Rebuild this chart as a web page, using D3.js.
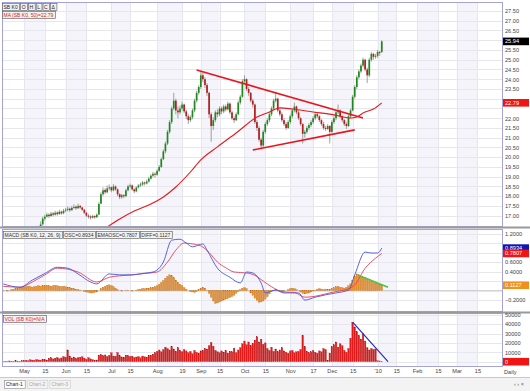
<!DOCTYPE html>
<html><head><meta charset="utf-8">
<script src="https://cdn.jsdelivr.net/npm/d3@7"></script>
<style>
html,body{margin:0;padding:0;background:#fff;}
svg{display:block;font-family:"Liberation Sans",Arial,sans-serif;}
</style></head><body>
<svg id="c" width="530" height="391"></svg>
<script>
// ---------- DATA ----------
const opens=[15.95,15.92,15.86,15.95,16.06,15.98,16.12,16.02,15.95,16.08,
16.16,16.12,16.22,16.18,16.26,16.30,16.22,16.36,16.42,16.56,
16.85,16.95,17.05,16.98,17.12,17.05,17.16,17.08,17.20,17.12,
17.26,17.30,17.36,17.28,17.40,17.46,17.38,17.50,17.42,17.30,
17.15,17.00,16.96,16.90,16.98,16.92,17.06,17.62,18.10,18.32,
18.20,18.40,18.46,18.30,18.50,18.35,18.10,17.95,18.05,18.00,
18.30,18.50,18.55,18.35,18.25,18.45,18.55,18.60,18.70,18.65,
18.75,18.90,19.05,19.15,19.10,19.30,19.50,19.90,20.30,20.70,
21.30,21.80,22.50,22.90,22.40,22.30,22.50,22.70,22.35,22.10,
21.90,22.05,22.40,22.90,23.30,23.60,24.20,24.00,23.70,23.30,
22.20,21.60,21.90,22.30,22.20,22.50,22.35,22.60,22.45,22.75,
22.30,22.00,21.90,22.20,22.80,23.10,23.90,24.00,23.50,23.30,
22.90,22.70,21.80,21.50,20.90,20.60,21.30,21.70,21.90,22.20,
22.50,22.90,23.00,22.40,22.20,21.90,21.70,21.50,21.80,22.10,
22.40,22.60,22.30,22.00,21.70,21.20,21.30,21.50,21.65,21.80,
22.00,22.20,22.10,21.90,21.70,21.50,21.45,21.60,21.30,21.80,
22.00,22.30,22.40,22.10,21.90,21.70,21.60,22.10,22.40,23.10,
23.60,24.10,24.40,24.70,25.00,24.50,24.20,25.00,25.30,25.15,
25.20,25.40,25.40];
const highs=[16.05,16.00,16.05,16.15,16.10,16.20,16.18,16.08,16.15,16.25,
16.22,16.28,16.30,16.35,16.40,16.36,16.42,16.48,16.70,16.95,
17.05,17.15,17.12,17.20,17.18,17.25,17.22,17.30,17.26,17.35,
17.40,17.48,17.42,17.50,17.58,17.52,17.62,17.55,17.46,17.35,
17.20,17.08,17.02,17.05,17.02,17.12,17.70,18.20,18.45,18.40,
18.55,18.60,18.50,18.62,18.55,18.40,18.15,18.12,18.10,18.38,
18.58,18.65,18.60,18.40,18.50,18.62,18.70,18.78,18.75,18.85,
18.98,19.12,19.25,19.22,19.38,19.60,19.98,20.40,20.80,21.40,
21.90,22.60,23.30,23.00,22.60,22.65,22.85,22.75,22.45,22.20,
22.15,22.50,23.00,23.40,23.70,24.40,24.35,24.10,23.80,23.35,
22.30,22.05,22.40,22.45,22.60,22.60,22.70,22.70,22.85,22.80,
22.40,22.10,22.30,22.90,23.20,24.00,24.20,24.05,23.60,23.35,
23.00,22.75,21.90,21.60,21.00,21.40,21.80,22.00,22.30,22.60,
23.00,23.35,23.05,22.50,22.30,22.00,21.80,21.90,22.20,22.50,
22.80,22.65,22.40,22.05,21.75,21.40,21.60,21.75,21.90,22.10,
22.35,22.30,22.15,21.95,21.80,21.60,21.70,21.65,21.90,22.10,
22.40,22.70,22.45,22.15,21.95,21.80,22.20,22.50,23.20,23.70,
24.20,24.50,24.80,25.10,25.05,24.60,25.10,25.40,25.35,25.30,
25.50,25.45,26.00];
const lows=[15.80,15.75,15.80,15.90,15.90,15.95,15.96,15.88,15.90,16.02,
16.05,16.08,16.10,16.12,16.20,16.15,16.18,16.30,16.38,16.50,
16.75,16.90,16.88,16.95,16.96,17.00,17.00,17.05,17.05,17.08,
17.18,17.22,17.20,17.25,17.35,17.30,17.35,17.35,17.25,17.08,
16.92,16.85,16.80,16.85,16.84,16.88,17.02,17.58,18.02,18.10,
18.15,18.30,18.20,18.25,18.28,18.00,17.85,17.88,17.90,17.96,
18.25,18.42,18.28,18.15,18.20,18.40,18.48,18.52,18.55,18.60,
18.70,18.85,18.98,18.95,19.05,19.25,19.45,19.85,20.20,20.62,
21.20,21.70,22.40,22.20,22.00,22.20,22.40,22.25,21.95,21.70,
21.80,21.95,22.30,22.80,23.20,23.50,23.85,23.55,23.15,22.00,
20.80,21.40,21.80,22.05,22.10,22.20,22.25,22.35,22.40,22.20,
21.90,21.75,21.85,22.15,22.70,23.05,23.80,23.40,23.15,22.80,
22.55,21.70,21.35,20.80,20.40,20.50,21.20,21.60,21.80,22.10,
22.40,22.80,22.30,22.10,21.80,21.60,21.40,21.45,21.70,22.00,
22.30,22.20,21.90,21.60,20.70,21.00,21.20,21.40,21.55,21.70,
21.90,22.00,21.80,21.60,21.40,21.35,21.40,20.70,21.25,21.70,
21.90,22.20,22.00,21.80,21.60,21.45,21.55,22.00,22.35,23.00,
23.50,24.00,24.30,24.60,24.40,23.80,24.10,24.90,25.00,25.05,
25.10,25.20,25.35];
const closes=[15.90,15.85,15.95,16.05,15.98,16.10,16.02,15.94,16.08,16.15,
16.12,16.20,16.18,16.25,16.30,16.22,16.35,16.40,16.55,16.85,
16.95,17.05,16.98,17.10,17.05,17.15,17.08,17.20,17.12,17.25,
17.30,17.35,17.28,17.40,17.45,17.38,17.50,17.42,17.30,17.15,
17.00,16.95,16.90,16.98,16.92,17.05,17.60,18.10,18.30,18.20,
18.40,18.45,18.30,18.50,18.35,18.10,17.95,18.05,18.00,18.30,
18.50,18.55,18.35,18.25,18.45,18.55,18.60,18.70,18.65,18.75,
18.90,19.05,19.15,19.10,19.30,19.50,19.90,20.30,20.70,21.30,
21.80,22.50,22.90,22.40,22.30,22.50,22.70,22.35,22.10,21.90,
22.05,22.40,22.90,23.30,23.60,24.20,24.00,23.70,23.30,22.20,
21.60,21.90,22.30,22.20,22.50,22.35,22.60,22.45,22.75,22.30,
22.00,21.90,22.20,22.80,23.10,23.90,24.00,23.50,23.30,22.90,
22.70,21.80,21.50,20.90,20.60,21.30,21.70,21.90,22.20,22.50,
22.90,23.00,22.40,22.20,21.90,21.70,21.50,21.80,22.10,22.40,
22.60,22.30,22.00,21.70,21.20,21.30,21.50,21.65,21.80,22.00,
22.20,22.10,21.90,21.70,21.50,21.45,21.60,21.30,21.80,22.00,
22.30,22.40,22.10,21.90,21.70,21.60,22.10,22.40,23.10,23.60,
24.10,24.40,24.70,25.00,24.50,24.20,25.00,25.30,25.15,25.20,
25.40,25.35,25.94];
const volumes=[300,500,400,800,600,500,900,700,600,1000,
1200,1500,900,2000,1700,1400,2200,1900,1600,2500,2100,1800,
3500,4200,3000,3800,4500,3200,4000,5500,4800,12500,
6000,4000,5000,3500,4200,4800,5200,3800,2500,4400,3000,2200,
1500,1800,
7000,7500,6500,7200,5500,6800,9500,6000,5800,9800,6200,5000,4800,7000,6500,5500,6000,
4500,5000,5500,4200,6000,5200,4800,6500,7000,
8000,9500,11000,12500,10500,13000,15500,
14000,12500,16000,13500,11000,15000,12000,10500,13000,11500,
9500,11000,8500,12000,10000,9000,11500,
12000,14000,13500,17000,20500,16500,12000,
10500,9500,11500,10000,12000,9000,11000,10500,14500,9500,12500,
15000,19000,22000,18000,21000,17000,19500,23000,26500,21000,24000,18500,20000,
14000,12000,15500,11000,13500,10500,12500,15000,11500,
10000,9000,11500,12000,9500,10500,11000,
13000,28000,16000,
11000,9500,10500,12000,10000,9000,11500,10500,
14000,13000,1500,9000,
16000,18000,21000,15500,19000,17000,12000,10000,
14000,25000,42000,
37000,32000,28000,24000,30000,22000,
15000,12500,14000,13000,13500,1000,800,500];
const histVals=[0.01,0.00,-0.01,0.00,0.02,0.03,0.04,0.05,0.06,0.07,
0.08,0.08,0.09,0.08,0.07,0.08,0.09,0.10,0.09,0.10,
0.10,0.11,0.10,0.09,0.10,0.11,0.10,0.09,0.08,0.09,0.08,0.07,0.06,
0.05,0.04,0.03,0.02,0.01,0.00,-0.02,-0.03,
-0.04,-0.05,-0.05,-0.04,-0.03,0.00,
0.04,0.07,0.09,0.11,0.12,0.10,0.08,0.05,0.02,
0.00,-0.01,0.00,0.01,0.01,0.00,-0.01,0.00,0.01,
0.02,0.03,0.04,0.04,0.05,0.05,0.06,0.07,0.08,
0.10,0.13,0.17,0.21,0.26,0.30,0.33,0.31,0.27,
0.22,0.17,0.13,0.10,0.06,0.03,0.00,-0.02,
-0.03,-0.04,-0.02,0.02,0.05,
0.07,0.05,0.01,-0.06,
-0.14,-0.22,-0.27,-0.26,-0.24,-0.22,-0.20,-0.18,
-0.17,-0.15,-0.13,-0.10,-0.06,-0.02,
0.02,0.05,0.06,0.04,0.00,
-0.05,-0.10,-0.16,-0.21,-0.25,-0.24,-0.22,-0.18,
-0.13,-0.07,-0.02,0.01,0.02,
0.01,-0.01,-0.03,-0.02,0.00,
0.02,0.04,0.05,0.04,0.02,0.00,
-0.03,-0.06,-0.07,-0.06,-0.05,-0.03,-0.01,
0.01,0.03,0.04,0.03,0.02,0.03,0.02,0.03,
0.04,0.06,0.08,0.09,0.07,0.06,0.05,0.07,0.10,0.14,
0.22,0.30,0.35,0.33,0.30,
0.28,0.27,0.24,0.23,0.20,0.19,0.16,0.15,0.13,0.11];
const oscIdx=[0,8,14,20,26,31,36,42,45,51,56,62,67,72,77,81,85,88,91,96,98,103,109,114,117,120,124,126,131,135,142,145,150,155,160,166,169,174,177,180,182];
const oscVals=[0.14,0.07,0.22,0.36,0.49,0.47,0.35,0.18,0.14,0.35,0.33,0.33,0.36,0.39,0.60,1.06,1.08,1.00,0.92,0.98,0.85,0.47,0.28,0.16,0.39,0.37,0.16,-0.05,0.01,-0.05,-0.05,-0.20,-0.14,-0.09,-0.05,0.01,0.33,0.81,0.79,0.79,0.8934];
const emaIdx=[0,8,14,20,26,31,36,45,51,56,62,68,74,79,83,87,91,95,99,103,107,111,117,121,125,129,135,140,145,150,155,160,164,169,174,179,182];
const emaVals=[0.09,0.07,0.18,0.33,0.47,0.45,0.39,0.18,0.28,0.31,0.33,0.36,0.39,0.60,0.85,1.00,0.98,0.94,0.80,0.60,0.48,0.39,0.37,0.32,0.20,0.08,-0.03,-0.04,-0.14,-0.12,-0.07,-0.02,0.01,0.12,0.47,0.68,0.7807];
const maIdx=[50,56,63,70,77,83,90,95,103,112,122,128,133,139,149,159,167,170,173,178,182];
const maVals=[16.42,16.83,17.24,17.55,17.96,18.47,19.24,19.86,20.53,21.24,22.06,22.32,22.53,22.47,22.32,22.17,22.01,22.06,22.27,22.47,22.79];
const trendUpper=[[93,24.47],[173,22.01]];
const trendLower=[[120,20.37],[169,21.40]];
const volTrend=[[168,42000],[185,0]];
const histTrend=[[170.5,0.33],[185,0.07]];
const dateTickIdx=[10,20,30,40,52,61,74,86,95,104,116,126,138,149,158,168,180,189,199,209,218,228];
const dateTickLabels=["May","15","Jun","15","Jul","15","Aug","19","Sep","15","Oct","15","Nov","17","Dec","15","'10","15","Feb","15","Mar","15"];
const priceTicks=[17,17.5,18,18.5,19,19.5,20,20.5,21,21.5,22,22.5,23,23.5,24,24.5,25,25.5,26,26.5,27,27.5];
const macdTicks=[-0.2,0,0.2,0.4,0.6,0.8,1.0,1.2];
const volTicks=[0,10000,20000,30000,40000,50000];
const lastClose=25.94, lastMA=22.79, lastOSC=0.8934, lastEMA=0.7807, lastDIFF=0.1127, lastVol=0;

// ---------- LAYOUT ----------
const svg=d3.select("#c");
const PL=3, PR=502, AX=505;
const P={main:[3,226],macd:[230,311],vol:[314,366]};
const x=d3.scaleLinear().domain([0,240]).range([3.2,502.4]);
const yP=d3.scaleLinear().domain([16.47,27.91]).range([P.main[1],P.main[0]]);
const yM=d3.scaleLinear().domain([-0.43,1.274]).range([P.macd[1],P.macd[0]]);
const yV=d3.scaleLinear().domain([-4574,50745]).range([P.vol[1],P.vol[0]]);
const FS=5.6;

const defs=svg.append("defs");
Object.entries(P).forEach(([k,[a,b]])=>{
  defs.append("clipPath").attr("id","clip-"+k).append("rect")
   .attr("x",PL).attr("y",a).attr("width",PR-PL).attr("height",b-a);
});

Object.entries(P).forEach(([k,[a,b]])=>{
  const g=svg.append("g").attr("clip-path","url(#clip-"+k+")");
  g.append("rect").attr("x",PL).attr("y",a).attr("width",PR-PL).attr("height",b-a).attr("fill","#fff");
  for(let j=0;j<dateTickIdx.length-1;j+=2){
    g.append("rect").attr("x",x(dateTickIdx[j])).attr("y",a)
     .attr("width",x(dateTickIdx[j+1])-x(dateTickIdx[j])).attr("height",b-a).attr("fill","#f4f4fa");
  }
  g.selectAll("line.vg").data(dateTickIdx).enter().append("line")
   .attr("x1",d=>Math.round(x(d))+0.5).attr("x2",d=>Math.round(x(d))+0.5)
   .attr("y1",a).attr("y2",b).attr("stroke","#e6e6ee").attr("stroke-width",1);
});
function hgrid(ticks,scale,k){
  const g=svg.append("g").attr("clip-path","url(#clip-"+k+")");
  g.selectAll("line").data(ticks).enter().append("line")
   .attr("x1",PL).attr("x2",PR)
   .attr("y1",d=>Math.round(scale(d))+0.5).attr("y2",d=>Math.round(scale(d))+0.5)
   .attr("stroke","#e6e6ee");
}
hgrid(priceTicks,yP,"main");
hgrid(macdTicks,yM,"macd");
hgrid(volTicks,yV,"vol");

// ---------- MAIN ----------
const gm=svg.append("g").attr("clip-path","url(#clip-main)");
const bars=closes.map((c,i)=>({i,o:opens[i],h:highs[i],l:lows[i],c}));
gm.selectAll("line.wick").data(bars).enter().append("line")
 .attr("x1",d=>x(d.i)).attr("x2",d=>x(d.i))
 .attr("y1",d=>yP(d.h)).attr("y2",d=>yP(d.l))
 .attr("stroke","#8a8a8a").attr("stroke-width",0.8);
gm.selectAll("rect.body").data(bars).enter().append("rect")
 .attr("x",d=>x(d.i)-0.85).attr("width",1.7)
 .attr("y",d=>yP(Math.max(d.o,d.c)))
 .attr("height",d=>Math.max(0.8,Math.abs(yP(d.o)-yP(d.c))))
 .attr("fill",d=>d.c>=d.o?"#1e8a1e":"#b51e1e");
const maPts=maIdx.map((d,j)=>[d,maVals[j]]);
gm.append("path").datum(maPts)
 .attr("d",d3.line().x(d=>x(d[0])).y(d=>yP(d[1])).curve(d3.curveMonotoneX))
 .attr("fill","none").attr("stroke","#e41a1a").attr("stroke-width",1.1);
[trendUpper,trendLower].forEach(t=>{
  gm.append("path").datum(t).attr("d",d3.line().x(d=>x(d[0])).y(d=>yP(d[1])))
   .attr("stroke","#e8161c").attr("stroke-width",1.6).attr("fill","none");
});

// ---------- MACD ----------
const gc=svg.append("g").attr("clip-path","url(#clip-macd)");
gc.append("line").attr("x1",PL).attr("x2",PR).attr("y1",yM(0)).attr("y2",yM(0)).attr("stroke","#b0b0b0").attr("stroke-width",0.6);
gc.selectAll("rect.h").data(histVals).enter().append("rect")
 .attr("x",(d,i)=>x(i)-0.8).attr("width",1.6)
 .attr("y",d=>Math.min(yM(d),yM(0))).attr("height",d=>Math.abs(yM(d)-yM(0)))
 .attr("fill","#e8922e").attr("stroke","#c06a14").attr("stroke-width",0.3);
const emaPts=emaIdx.map((d,j)=>[d,emaVals[j]]);
const oscPts=oscIdx.map((d,j)=>[d,oscVals[j]]);
const lm=d3.line().x(d=>x(d[0])).y(d=>yM(d[1])).curve(d3.curveMonotoneX);
gc.append("path").datum(emaPts).attr("d",lm).attr("fill","none").attr("stroke","#e8405c").attr("stroke-width",0.9);
gc.append("path").datum(oscPts).attr("d",lm).attr("fill","none").attr("stroke","#4a56d6").attr("stroke-width",0.9);
gc.append("path").datum(histTrend).attr("d",d3.line().x(d=>x(d[0])).y(d=>yM(d[1])))
 .attr("stroke","#48c83a").attr("stroke-width",1.6).attr("fill","none");

// ---------- VOLUME ----------
const gv=svg.append("g").attr("clip-path","url(#clip-vol)");
gv.selectAll("rect.v").data(volumes).enter().append("rect")
 .attr("x",(d,i)=>x(i)-0.8).attr("width",1.6)
 .attr("y",d=>yV(d)).attr("height",d=>yV(0)-yV(d))
 .attr("fill","#e01b1b").attr("stroke","#a00c0c").attr("stroke-width",0.25);
gv.append("path").datum(volTrend).attr("d",d3.line().x(d=>x(d[0])).y(d=>yV(d[1])))
 .attr("stroke","#2a2ab8").attr("stroke-width",1.2).attr("fill","none");

// ---------- frames & separators ----------
Object.values(P).forEach(([a,b])=>{
  svg.append("rect").attr("x",PL-0.5).attr("y",a-0.5).attr("width",PR-PL+1).attr("height",b-a+1)
   .attr("fill","none").attr("stroke","#a4a4d8").attr("stroke-width",1);
});
[227.5,312.5].forEach(yy=>{
  svg.append("line").attr("x1",0).attr("x2",530).attr("y1",yy).attr("y2",yy).attr("stroke","#9a9a9a").attr("stroke-width",2);
});

// ---------- right axes & badges ----------
const badgeList=[
  {s:yP,v:lastClose,t:d3.format(".2f")(lastClose),bg:"#000"},
  {s:yP,v:lastMA,t:d3.format(".2f")(lastMA),bg:"#f01414"},
  {s:yM,v:lastOSC,t:d3.format(".4f")(lastOSC),bg:"#1414b4"},
  {s:yM,v:lastEMA,t:d3.format(".4f")(lastEMA),bg:"#f01414"},
  {s:yM,v:lastDIFF,t:d3.format(".4f")(lastDIFF),bg:"#f0901e"},
  {s:yV,v:lastVol,t:String(lastVol),bg:"#f01414"}
];
function rAxis(scale,ticks,fmt){
  const covered=badgeList.filter(b=>b.s===scale).map(b=>scale(b.v));
  const shown=ticks.filter(t=>covered.every(c=>Math.abs(scale(t)-c)>=6.5));
  const g=svg.append("g").attr("transform","translate("+AX+",0)")
    .call(d3.axisRight(scale).tickValues(shown).tickFormat(fmt).tickSize(0).tickPadding(0));
  g.select(".domain").remove();
  g.selectAll("text").attr("font-size",FS).attr("fill","#444").attr("font-family","Liberation Sans, Arial, sans-serif");
}
rAxis(yP,priceTicks,d3.format(".2f"));
rAxis(yM,macdTicks,d3.format(".4f"));
rAxis(yV,volTicks.filter(v=>v>0),d3.format("d"));
badgeList.forEach(b=>{
  const yy=b.s(b.v);
  svg.append("rect").attr("x",503).attr("y",yy-3.8).attr("width",26).attr("height",7.6).attr("fill",b.bg);
  svg.append("text").attr("x",505).attr("y",yy+2).attr("font-size",FS).attr("fill","#fff").text(b.t);
});

// ---------- x axis ----------
const xa=svg.append("g").attr("transform","translate(0,368)")
  .call(d3.axisBottom(x).tickValues(dateTickIdx).tickFormat((d,j)=>dateTickLabels[j]).tickSize(0).tickPadding(0));
xa.select(".domain").remove();
xa.selectAll("text").attr("font-size",FS).attr("fill","#444").attr("dy","0.9em");
svg.append("text").attr("x",504).attr("y",374).attr("font-size",FS).attr("fill","#444").text("Daily");

// ---------- header boxes ----------
function boxes(items,y0,x0,color){
  let xx=x0;
  items.forEach(t=>{
    const r=svg.append("rect").attr("x",xx+0.5).attr("y",y0+0.5).attr("height",7)
      .attr("fill","#f2f2f2").attr("stroke","#555").attr("stroke-width",0.6);
    const tx=svg.append("text").attr("x",xx+1.5).attr("y",y0+5.6).attr("font-size",5).attr("fill",color).text(t);
    const w=tx.node().getComputedTextLength()+3;
    r.attr("width",w);
    xx+=w+1;
  });
}
boxes(["SB K0","O","H","L","C","\u0394"],3,2,"#222");
boxes(["MA (SB K0, 50)=22.79"],11,2,"#e01a1a");
boxes(["MACD (SB K0, 12, 26, 9)","OSC=0.8934","EMAOSC=0.7807","DIFF=0.1127"],231,3,"#333");
boxes(["VOL (SB K0)=N/A"],315,3,"#e01a1a");

// ---------- tab bar ----------
svg.append("rect").attr("x",0).attr("y",377).attr("width",530).attr("height",14).attr("fill","#f3f3f3");
svg.append("line").attr("x1",0).attr("x2",530).attr("y1",377.5).attr("y2",377.5).attr("stroke","#c8c8c8");
const tabs=["Chart-1","Chart-2","Chart-3"];
let tx0=4;
tabs.forEach((t,j)=>{
  const r=svg.append("rect").attr("x",tx0+0.5).attr("y",380.5).attr("height",8)
    .attr("fill",j===0?"#fff":"#f3f3f3").attr("stroke",j===0?"#888":"#ccc").attr("stroke-width",0.6);
  const te=svg.append("text").attr("x",tx0+2).attr("y",386.3).attr("font-size",5).attr("fill",j===0?"#222":"#aaa").text(t);
  const w=te.node().getComputedTextLength()+4;
  r.attr("width",w);
  tx0+=w+2;
});
svg.append("text").attr("x",514).attr("y",386).attr("font-size",5.5).attr("fill","#666").text("\u2039 \u203A \u00D7");
</script>
</body></html>
